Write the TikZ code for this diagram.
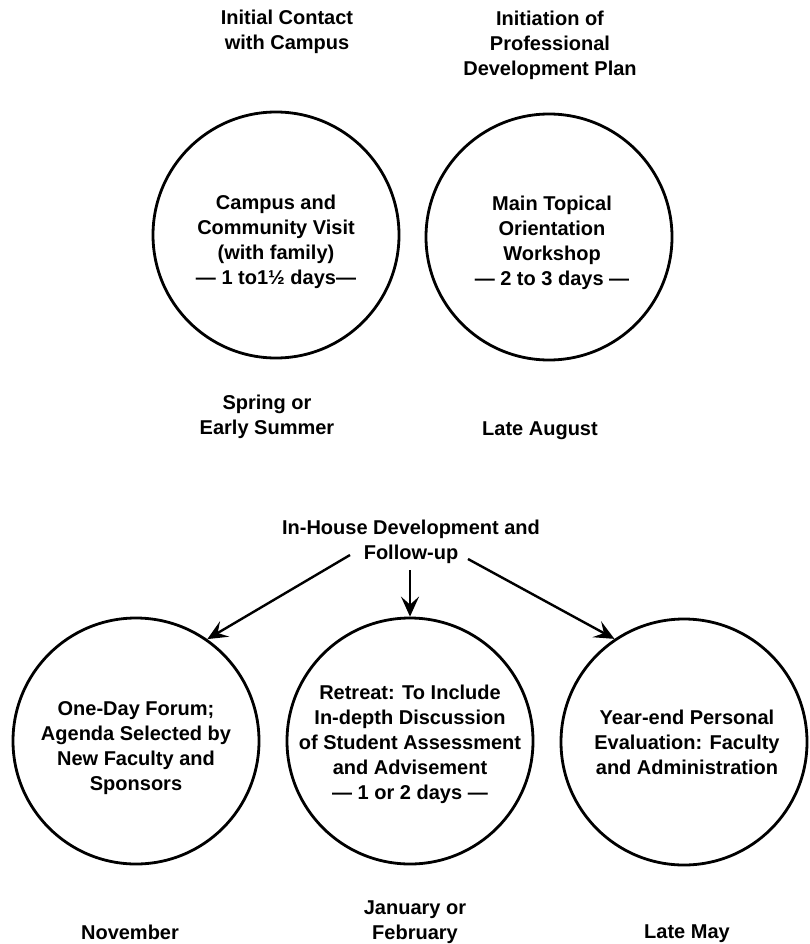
\documentclass[tikz,border=0pt]{standalone}
\usepackage{fontspec}
\setmainfont{Liberation Sans}
\usetikzlibrary{arrows.meta}
\begin{document}
\begin{tikzpicture}[x=1pt,y=-1pt,
  txt/.style={font=\bfseries\fontsize{20}{25}\selectfont, align=center, inner sep=0pt},
  stage/.style={circle, draw, line width=2.8pt, minimum size=246pt, inner sep=0pt},
  arr/.style={line width=2.4pt, -{Stealth[length=20pt,width=18pt,inset=8pt]}}]
\useasboundingbox (0,0) rectangle (810,944);
\fill[white] (0,0) rectangle (810,944);

% first year: two stages before classes begin
\node[txt] (contact) at (287,32) {Initial Contact\\with Campus};
\node[txt] (plan) at (550,45) {Initiation of\\Professional\\Development Plan};

\node[stage] (visit) at (276,235) {};
\node[txt] (visit-t) at (276,242) {Campus and\\Community Visit\\(with family)\\— 1 to1½ days—};
\node[stage] (workshop) at (549,237) {};
\node[txt] (workshop-t) at (552,243) {Main Topical\\Orientation\\Workshop\\— 2 to 3 days —};

\node[txt] (spring) at (267,417) {Spring or\\Early Summer};
\node[txt] (august) at (540,431) {Late August};

% in-house follow-up during the year
\node[txt] (inhouse) at (411,542) {In-House Development and\\Follow-up};

\node[stage] (forum) at (136,741) {};
\node[txt] (forum-t) at (136,748) {One-Day Forum;\\Agenda Selected by\\New Faculty and\\Sponsors};
\node[stage] (retreat) at (410,741) {};
\node[txt] (retreat-t) at (410,744) {Retreat: To Include\\In-depth Discussion\\of Student Assessment\\and Advisement\\— 1 or 2 days —};
\node[stage] (yearend) at (684,742) {};
\node[txt] (yearend-t) at (687,742) {Year-end Personal\\Evaluation: Faculty\\and Administration};

\node[txt] (nov) at (130,932) {November};
\node[txt] (jan) at (415,922) {January or\\February};
\node[txt] (may) at (687,934) {Late May};

% connectors from the follow-up heading
\coordinate (fromL) at (350,555);
\coordinate (fromM) at (410,570);
\coordinate (fromR) at (468,559);
\draw[arr] (fromL) -- (forum.55);
\draw[arr] (fromM) -- (retreat.north);
\draw[arr] (fromR) -- (yearend.124);
\end{tikzpicture}
\end{document}
